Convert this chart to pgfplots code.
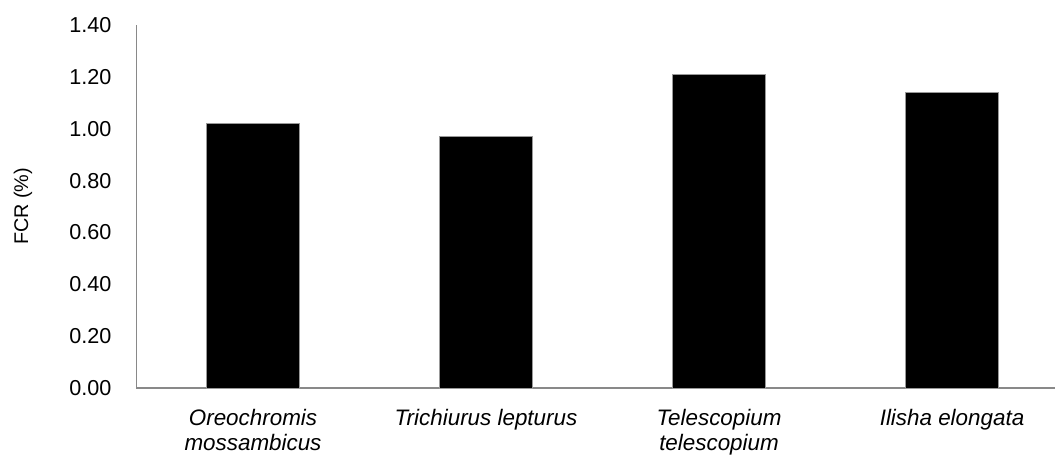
\documentclass[border=0pt]{standalone}
\usepackage{pgfplots}
\pgfplotsset{compat=1.18}
\usepackage{fontspec}
\setmainfont{Liberation Sans}
\definecolor{axisgray}{HTML}{898989}
\begin{document}
\begin{tikzpicture}
\begin{axis}[
  scale only axis,
  width=459.25pt, height=181.5pt,
  xmin=-0.5, xmax=3.442, ymin=0, ymax=1.4,
  axis lines*=left,
  axis line style={draw=axisgray, line width=0.8pt},
  major tick length=0pt,
  ytick={0,0.2,0.4,0.6,0.8,1.0,1.2,1.4},
  yticklabel style={font=\fontsize{10.8}{12}\selectfont, xshift=-9pt},
  /pgf/number format/assume math mode=true,
  /pgf/number format/.cd, fixed, fixed zerofill, precision=2, /pgfplots/.cd,
  xtick={0,1,2,3},
  xticklabels={{Oreochromis\\mossambicus},{Trichiurus lepturus},{Telescopium\\telescopium},{Ilisha elongata}},
  xticklabel style={font=\fontsize{11.2}{12.8}\selectfont\itshape, align=center, yshift=-7pt},
  ylabel={FCR (\%)},
  ylabel style={at={(axis description cs:0,0.5)}, anchor=center, rotate=0, yshift=56.75pt, font=\fontsize{9.9}{11}\selectfont},
  ybar, bar width=46.5pt,
]
\addplot[fill=black, draw=black!40, line width=0.4pt] coordinates {(0,1.02) (1,0.97) (2,1.21) (3,1.14)};
\end{axis}
\pgfresetboundingbox
\path (-68.25pt,-33.5pt) rectangle (459.25pt,194pt);
\end{tikzpicture}
\end{document}
